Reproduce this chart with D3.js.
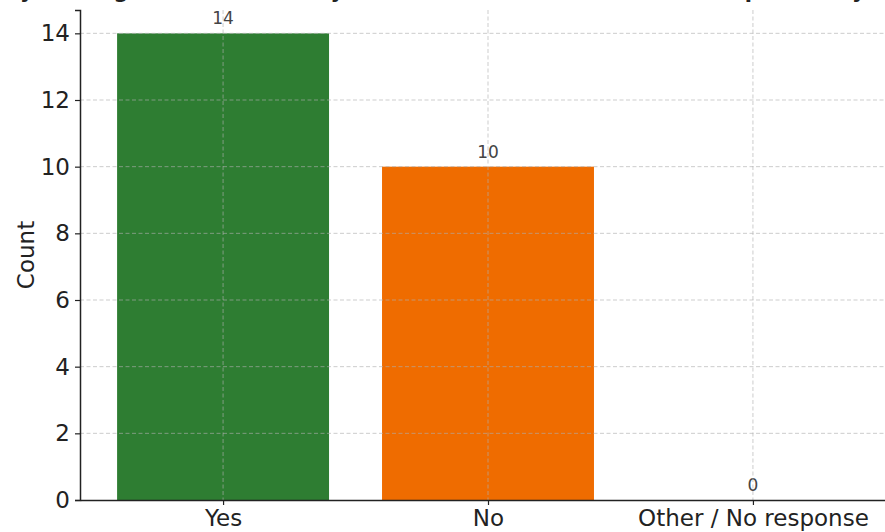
<!DOCTYPE html>
<html>
<head>
<meta charset="utf-8">
<script src="https://cdn.jsdelivr.net/npm/d3@7"></script>
<style>
  html, body { margin: 0; padding: 0; background: #fff; overflow: hidden; }
  svg { display: block; font-family: "DejaVu Sans", sans-serif; }
</style>
</head>
<body>
<svg id="chart" width="885" height="532"></svg>
<script>
// Survey responses
const categories = ["Yes", "No", "Other / No response"];
const counts = [14, 10, 0];
const barColors = ["#2e7d32", "#ef6c00", "#9e9e9e"];
const yTicks = [0, 2, 4, 6, 8, 10, 12, 14];
const chartTitle = "Did you imagine the full survey was relevant to the team and helpful to my study?";
const yLabel = "Count";

const svg = d3.select("#chart");

// Plot frame (the right part of the axes runs past the canvas edge)
const frame = { left: 80, right: 896, top: 10, bottom: 500 };

// Category positions on a linear axis, bars 0.8 wide
const x = d3.scaleLinear().domain([-0.54, categories.length - 1 + 0.54]).range([frame.left, frame.right]);
const y = d3.scaleLinear().domain([0, 14.7]).range([frame.bottom, frame.top]);
const barW = x(0.8) - x(0);

// Bars
svg.append("g").selectAll("rect")
  .data(counts)
  .join("rect")
  .attr("x", (d, i) => x(i) - barW / 2)
  .attr("y", d => y(d))
  .attr("width", barW)
  .attr("height", d => y(0) - y(d))
  .attr("fill", (d, i) => barColors[i]);

// Value labels above bars
svg.append("g").selectAll("text")
  .data(counts)
  .join("text")
  .attr("x", (d, i) => x(i))
  .attr("y", d => y(d) - 9)
  .attr("text-anchor", "middle")
  .attr("font-size", 17)
  .attr("fill", "#444")
  .text(d => d);

// Dashed grid drawn over bars and labels
const grid = svg.append("g")
  .attr("stroke", "#b0b0b0")
  .attr("stroke-opacity", 0.7)
  .attr("stroke-width", 0.9)
  .attr("stroke-dasharray", "4,2.5");
grid.selectAll("line.h")
  .data(yTicks.filter(t => t > 0))
  .join("line")
  .attr("class", "h")
  .attr("x1", frame.left).attr("x2", frame.right)
  .attr("y1", d => y(d)).attr("y2", d => y(d));
grid.selectAll("line.v")
  .data(categories)
  .join("line")
  .attr("class", "v")
  .attr("x1", (d, i) => x(i)).attr("x2", (d, i) => x(i))
  .attr("y1", frame.top).attr("y2", frame.bottom);

// Y axis
const yAxis = svg.append("g")
  .attr("transform", `translate(${frame.left},0)`)
  .call(d3.axisLeft(y).tickValues(yTicks).tickSize(5).tickPadding(5).tickFormat(d3.format("d")));
yAxis.select(".domain").attr("stroke", "#222").attr("stroke-width", 1.5);
yAxis.selectAll(".tick line").attr("stroke", "#222").attr("stroke-width", 1.2);
yAxis.selectAll(".tick text").attr("font-size", 23).attr("fill", "#222").attr("font-family", "DejaVu Sans");

// X axis
const xAxis = svg.append("g")
  .attr("transform", `translate(0,${frame.bottom})`)
  .call(d3.axisBottom(x).tickValues(d3.range(categories.length)).tickSize(5).tickPadding(5)
    .tickFormat(i => categories[i]).tickSizeOuter(0));
xAxis.select(".domain").attr("stroke", "#222").attr("stroke-width", 1.5);
xAxis.selectAll(".tick line").attr("stroke", "#222").attr("stroke-width", 1.2);
xAxis.selectAll(".tick text").attr("font-size", 23).attr("fill", "#222").attr("font-family", "DejaVu Sans");

// Axis title
svg.append("text")
  .attr("transform", `translate(34,${(frame.top + frame.bottom) / 2}) rotate(-90)`)
  .attr("text-anchor", "middle")
  .attr("font-size", 23)
  .attr("fill", "#222")
  .text(yLabel);

// Chart title, sitting mostly above the top edge
svg.append("text")
  .attr("x", -27)
  .attr("y", -2)
  .attr("text-anchor", "start")
  .attr("font-size", 21)
  .attr("font-weight", "bold")
  .attr("fill", "#222")
  .text(chartTitle);
</script>
</body>
</html>
